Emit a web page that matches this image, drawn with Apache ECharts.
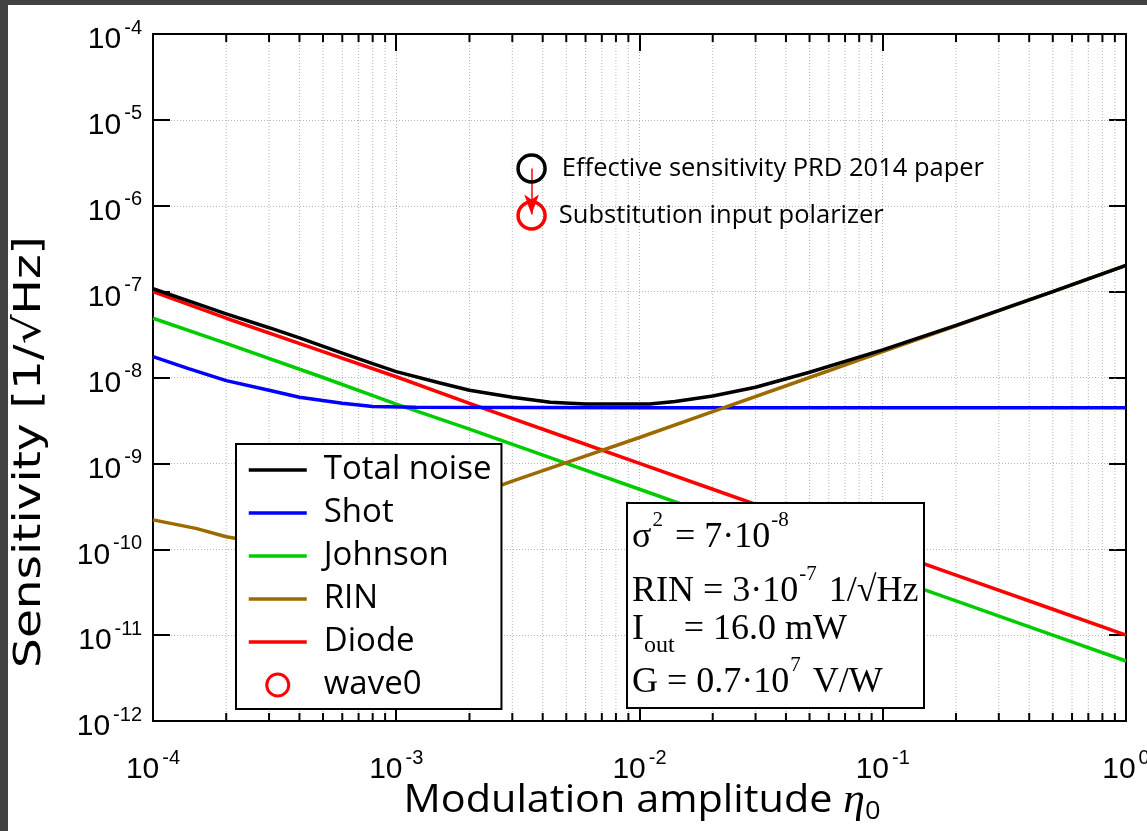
<!DOCTYPE html>
<html>
<head>
<meta charset="utf-8">
<script src="https://cdn.jsdelivr.net/npm/echarts@6/dist/echarts.min.js"></script>
<style>
html,body{margin:0;padding:0;background:#fff;}
#c{width:1147px;height:831px;}
</style>
</head>
<body>
<div id="c"></div>
<script>
// ---------- data ----------
const xMin = 1e-4, xMax = 1;
const yMin = 1e-12, yMax = 1e-4;
const xTickValues = [1e-4, 1e-3, 1e-2, 1e-1, 1];
const xTickExps = ['-4', '-3', '-2', '-1', '0'];
const yTickValues = [1e-12, 1e-11, 1e-10, 1e-9, 1e-8, 1e-7, 1e-6, 1e-5, 1e-4];
const yTickExps = ['-12', '-11', '-10', '-9', '-8', '-7', '-6', '-5', '-4'];

const seriesNames = ['Total noise', 'Shot', 'Johnson', 'RIN', 'Diode', 'wave0'];

const totalNoise = [
  [1e-4, 1.08e-7], [1.5e-4, 7.3e-8], [2e-4, 5.5e-8], [3e-4, 3.8e-8], [4e-4, 2.9e-8],
  [6e-4, 1.92e-8], [8e-4, 1.45e-8], [1e-3, 1.17e-8], [1.5e-3, 8.7e-9], [2e-3, 7.1e-9],
  [3e-3, 5.9e-9], [4.3e-3, 5.15e-9], [6e-3, 4.9e-9], [1.1e-2, 4.9e-9], [1.4e-2, 5.25e-9],
  [2e-2, 6.1e-9], [3e-2, 7.7e-9], [5e-2, 1.15e-8], [1e-1, 2.1e-8], [2e-1, 4.05e-8],
  [5e-1, 1.0e-7], [1, 2.02e-7]
];
const shotNoise = [
  [1e-4, 1.75e-8], [1.4e-4, 1.27e-8], [2e-4, 9.2e-9], [3e-4, 7.1e-9], [4e-4, 5.9e-9],
  [6e-4, 5.0e-9], [8e-4, 4.6e-9], [1.2e-3, 4.5e-9], [1e-2, 4.45e-9], [1e-1, 4.45e-9], [1, 4.45e-9]
];
const johnsonNoise = [
  [1e-4, 4.9e-8], [2e-4, 2.5e-8], [5e-4, 1.0e-8], [1e-3, 4.9e-9], [2e-3, 2.5e-9],
  [5e-3, 1.0e-9], [1e-2, 5.0e-10], [2e-2, 2.5e-10], [5e-2, 1.0e-10], [1e-1, 5.0e-11],
  [2e-1, 2.5e-11], [5e-1, 1.0e-11], [1, 5.0e-12]
];
const rinNoise = [
  [1e-4, 2.2e-10], [1.5e-4, 1.75e-10], [2e-4, 1.4e-10], [3e-4, 1.15e-10], [5e-4, 1.1e-10],
  [7e-4, 1.5e-10], [1e-3, 2.1e-10], [2e-3, 4.1e-10], [3e-3, 6.2e-10], [5e-3, 1.02e-9],
  [1e-2, 2.0e-9], [2e-2, 4.0e-9], [5e-2, 1.0e-8], [1e-1, 2.0e-8], [2e-1, 4.0e-8],
  [5e-1, 1.0e-7], [1, 2.02e-7]
];
const diodeNoise = [
  [1e-4, 1.0e-7], [2e-4, 4.9e-8], [5e-4, 2.0e-8], [1e-3, 1.02e-8], [2e-3, 5.0e-9],
  [5e-3, 2.0e-9], [1e-2, 1.0e-9], [2e-2, 5.0e-10], [5e-2, 2.0e-10], [1e-1, 1.0e-10],
  [2e-1, 5.0e-11], [5e-1, 2.0e-11], [1, 1.0e-11]
];
const wave0Point = [[3.6e-3, 7.7e-7]];
const prdPoint = [[3.6e-3, 2.72e-6]];
const arrowEnd = [3.6e-3, 7.9e-7];

const prdLabel = 'Effective sensitivity PRD 2014 paper';
const wave0Label = 'Substitution input polarizer';

// minor tick positions (2..9 within each decade)
const xMinorTicks = [];
for (let e = -4; e < 0; e++) for (let m = 2; m <= 9; m++) xMinorTicks.push([m * Math.pow(10, e), yMin]);

// ---------- chart ----------
const chart = echarts.init(document.getElementById('c'), null, {renderer: 'canvas'});
const dotted = {color: '#b5b5b5', width: 1, type: [1, 2]};
const axisCommon = {
  axisLine: {show: true, onZero: false, lineStyle: {color: '#000', width: 2}},
  axisTick: {show: true, inside: true, length: 17, lineStyle: {color: '#000', width: 2}}
};
function expIndex(vals, v) {
  const lv = Math.log10(v);
  for (let i = 0; i < vals.length; i++) if (Math.abs(Math.log10(vals[i]) - lv) < 1e-6) return i;
  return -1;
}
const tickFont = 'Liberation Sans';
const tickRich = {
  b: {fontSize: 30, fontFamily: tickFont, color: '#000', lineHeight: 44},
  s: {fontSize: 20, fontFamily: tickFont, color: '#000', lineHeight: 18, verticalAlign: 'top', padding: [0, 0, 0, 3]}
};
const serif = 'Liberation Serif';
const boxRich = {
  m: {fontSize: 36, fontFamily: serif, color: '#000', lineHeight: 56},
  sup: {fontSize: 21, fontFamily: serif, color: '#000', lineHeight: 20, verticalAlign: 'top', padding: [0, 3, 0, 1]},
  sub: {fontSize: 24, fontFamily: serif, color: '#000', lineHeight: 38, verticalAlign: 'bottom'}
};
const lineLegendStyle = {opacity: 0};

const option = {
  backgroundColor: '#fff',
  animation: false,
  textStyle: {fontFamily: 'Open Sans'},
  grid: {left: 153, right: 21, top: 34, bottom: 110, containLabel: false, outerBoundsMode: 'none'},
  xAxis: [
    Object.assign({
      type: 'log', logBase: 10, min: xMin, max: xMax, interval: 1, position: 'bottom',
      splitLine: {show: true, lineStyle: dotted},
      axisLabel: {
        margin: 27,
        formatter: v => { const i = expIndex(xTickValues, v); return i < 0 ? '' : '{b|10}{s|' + xTickExps[i] + '}'; },
        rich: tickRich
      }
    }, axisCommon),
    Object.assign({
      type: 'log', logBase: 10, min: xMin, max: xMax, interval: 1, position: 'top',
      splitLine: {show: false}, axisLabel: {show: false}
    }, axisCommon)
  ],
  yAxis: [
    Object.assign({
      type: 'log', logBase: 10, min: yMin, max: yMax, interval: 1, position: 'left',
      splitLine: {show: true, lineStyle: dotted},
      axisLabel: {
        margin: 11,
        padding: [12, 0, 0, 0],
        formatter: v => { const i = expIndex(yTickValues, v); return i < 0 ? '' : '{b|10}{s|' + yTickExps[i] + '}'; },
        rich: tickRich
      }
    }, axisCommon),
    Object.assign({
      type: 'log', logBase: 10, min: yMin, max: yMax, interval: 1, position: 'right',
      splitLine: {show: false}, axisLabel: {show: false}
    }, axisCommon)
  ],
  legend: {
    data: [
      {name: 'Total noise', itemStyle: lineLegendStyle},
      {name: 'Shot', itemStyle: lineLegendStyle},
      {name: 'Johnson', itemStyle: lineLegendStyle},
      {name: 'RIN', itemStyle: lineLegendStyle},
      {name: 'Diode', itemStyle: lineLegendStyle},
      {name: 'wave0', icon: 'circle', itemStyle: {color: '#fff', borderColor: '#ff0000', borderWidth: 3, opacity: 1}}
    ],
    orient: 'vertical', left: 236, top: 444,
    itemWidth: 58, itemHeight: 22, itemGap: 7,
    padding: [8, 10, 6, 11],
    backgroundColor: '#fff', borderColor: '#000', borderWidth: 2, borderRadius: 0,
    lineStyle: {width: 3.5},
    textStyle: {fontSize: 33, color: '#000', fontFamily: 'Open Sans', lineHeight: 36, padding: [0, 0, 0, 12]},
    selectedMode: false, z: 10
  },
  series: [
    {
      type: 'custom', name: 'minorGrid', silent: true, z: 1, clip: false,
      xAxisIndex: 0, yAxisIndex: 0, data: xMinorTicks,
      renderItem: function (params, api) {
        const v = api.value(0);
        const b = api.coord([v, yMin]);
        const t = api.coord([v, yMax]);
        return {
          type: 'group',
          children: [
            {type: 'line', shape: {x1: b[0], y1: b[1], x2: t[0], y2: t[1]}, style: {stroke: '#b5b5b5', lineWidth: 1, lineDash: [1, 2]}},
            {type: 'line', shape: {x1: b[0], y1: b[1], x2: b[0], y2: b[1] - 8}, style: {stroke: '#000', lineWidth: 2}},
            {type: 'line', shape: {x1: t[0], y1: t[1], x2: t[0], y2: t[1] + 8}, style: {stroke: '#000', lineWidth: 2}}
          ]
        };
      }
    },
    {name: 'Total noise', type: 'line', data: totalNoise, symbol: 'none', showSymbol: false, z: 6,
      lineStyle: {color: '#000000', width: 3.5}, itemStyle: {color: '#000000'}},
    {name: 'Shot', type: 'line', data: shotNoise, symbol: 'none', showSymbol: false, z: 5,
      lineStyle: {color: '#0000ff', width: 3.5}, itemStyle: {color: '#0000ff'}},
    {name: 'Johnson', type: 'line', data: johnsonNoise, symbol: 'none', showSymbol: false, z: 3,
      lineStyle: {color: '#00cc00', width: 3.5}, itemStyle: {color: '#00cc00'}},
    {name: 'RIN', type: 'line', data: rinNoise, symbol: 'none', showSymbol: false, z: 5,
      lineStyle: {color: '#9c6a00', width: 3.5}, itemStyle: {color: '#9c6a00'}},
    {name: 'Diode', type: 'line', data: diodeNoise, symbol: 'none', showSymbol: false, z: 4,
      lineStyle: {color: '#ff0000', width: 3.5}, itemStyle: {color: '#ff0000'}},
    {name: 'wave0', type: 'scatter', data: wave0Point, symbol: 'circle', symbolSize: 27, z: 7,
      itemStyle: {color: 'rgba(255,255,255,0)', borderColor: '#ff0000', borderWidth: 3.5, opacity: 1},
      label: {show: true, position: 'right', distance: 12, formatter: wave0Label,
        fontSize: 25.5, fontFamily: 'Open Sans', color: '#000'}},
    {name: 'PRD 2014', type: 'scatter', data: prdPoint, symbol: 'circle', symbolSize: 27, z: 7,
      itemStyle: {color: 'rgba(255,255,255,0)', borderColor: '#000000', borderWidth: 3.5, opacity: 1},
      label: {show: true, position: 'right', distance: 15, formatter: prdLabel,
        fontSize: 25.5, fontFamily: 'Open Sans', color: '#000'},
      markLine: {
        silent: true, symbol: ['none', 'arrow'], symbolSize: [11, 20], animation: false,
        lineStyle: {color: '#ff0000', width: 1.5, type: 'solid', opacity: 1}, label: {show: false},
        data: [[{coord: prdPoint[0]}, {coord: arrowEnd}]]
      }}
  ],
  graphic: [
    {type: 'rect', left: 0, top: 0, shape: {width: 8, height: 831}, style: {fill: '#424242'}, z: 100, silent: true},
    {type: 'rect', left: 0, top: 0, shape: {width: 1147, height: 5}, style: {fill: '#424242'}, z: 100, silent: true},
    {type: 'text', x: 642, y: 801, scaleX: 1.09, z: 50,
      style: {text: '{a|Modulation amplitude }{e|η}{s|0}', align: 'center', verticalAlign: 'middle',
        rich: {
          a: {fontSize: 38, fontFamily: 'Open Sans', color: '#000', lineHeight: 46},
          e: {fontSize: 40, fontFamily: serif, fontStyle: 'italic', color: '#000', lineHeight: 46},
          s: {fontSize: 25, fontFamily: 'Open Sans', color: '#000', lineHeight: 32, verticalAlign: 'bottom'}
        }}},
    {type: 'text', x: 30, y: 452, rotation: Math.PI / 2, scaleX: 1.27, z: 50,
      style: {text: 'Sensitivity [1/√Hz]', align: 'center', verticalAlign: 'middle',
        fontSize: 37, fontFamily: 'DejaVu Sans', fill: '#000'}},
    {type: 'rect', z: 40, shape: {x: 627, y: 503, width: 297, height: 205}, style: {fill: '#fff', stroke: '#000', lineWidth: 2}},
    {type: 'text', z: 41, x: 632, y: 510, style: {text: '{m|σ}{sup|2}{m| = 7·10}{sup|-8}', rich: boxRich, verticalAlign: 'top', align: 'left'}},
    {type: 'text', z: 41, x: 632, y: 564, style: {text: '{m|RIN = 3·10}{sup|-7}{m| 1/√Hz}', rich: boxRich, verticalAlign: 'top', align: 'left'}},
    {type: 'text', z: 41, x: 632, y: 602, style: {text: '{m|I}{sub|out}{m| = 16.0 mW}', rich: boxRich, verticalAlign: 'top', align: 'left'}},
    {type: 'text', z: 41, x: 632, y: 655, style: {text: '{m|G = 0.7·10}{sup|7}{m| V/W}', rich: boxRich, verticalAlign: 'top', align: 'left'}}
  ]
};
chart.setOption(option);
</script>
</body>
</html>
